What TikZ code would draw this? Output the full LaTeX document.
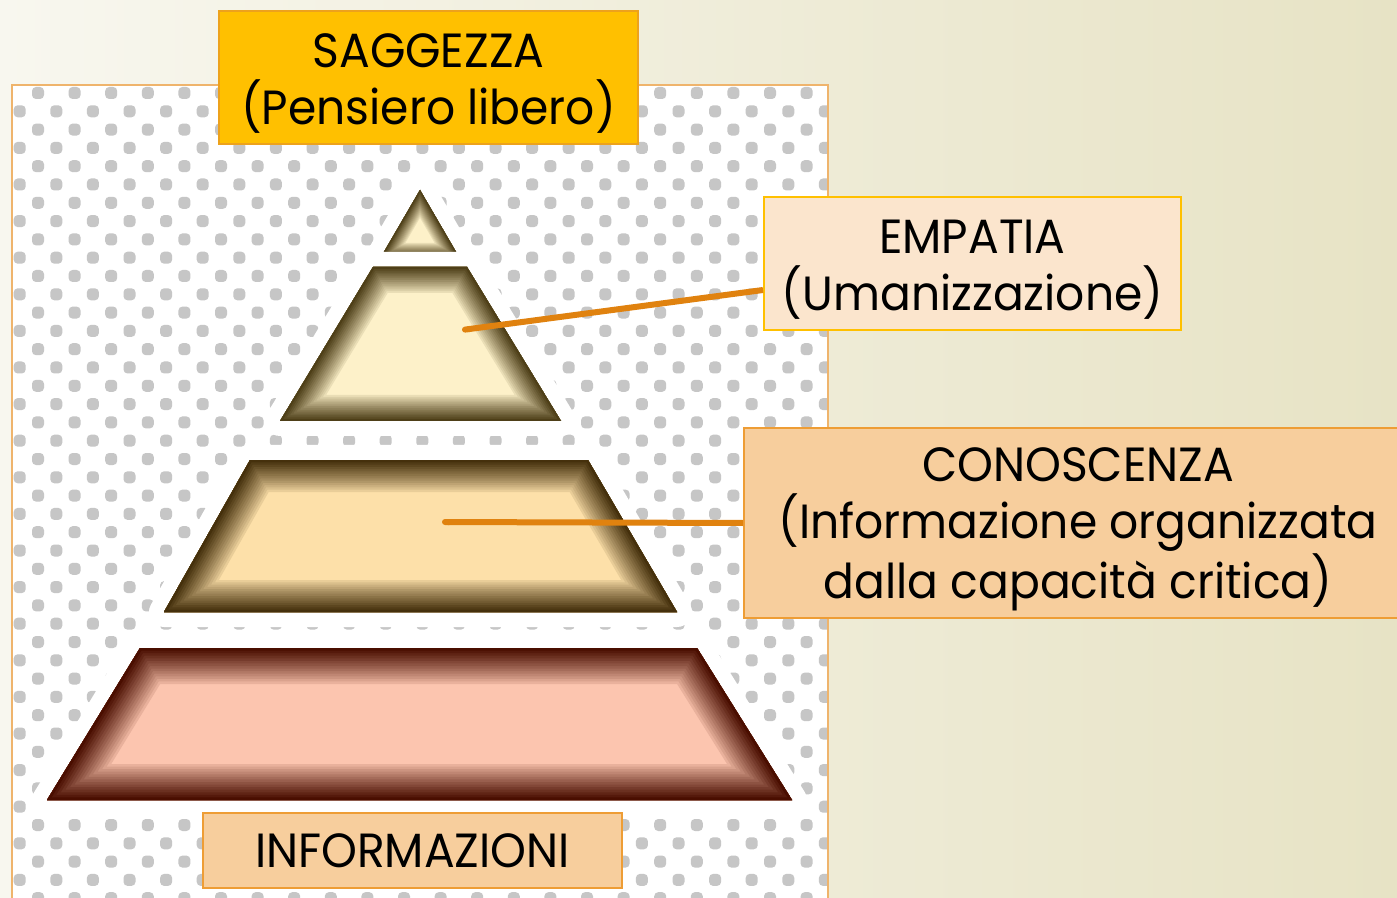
\documentclass[tikz,border=0pt]{standalone}
\usepackage{fontspec}
\setmainfont{Poppins}[FakeStretch=0.95]
\usepackage{xcolor}
\usetikzlibrary{positioning,calc,arrows.meta}

\definecolor{bgleft}{HTML}{F8F7EF}
\definecolor{bgright}{HTML}{E7E3C5}
\definecolor{framec}{HTML}{EFB46C}
\definecolor{dotc}{HTML}{C6C6C6}
\definecolor{gold}{HTML}{FFC000}
\definecolor{goldline}{HTML}{EDA21C}
\definecolor{peachlight}{HTML}{FBE5CD}
\definecolor{peach}{HTML}{F7CE9D}
\definecolor{peachline}{HTML}{EE9D35}
\definecolor{connc}{HTML}{E0820F}
\definecolor{creamin}{HTML}{FDF1C9}
\definecolor{creamdk}{HTML}{4E3F18}
\definecolor{tanin}{HTML}{FDE0A9}
\definecolor{tandk}{HTML}{45300C}
\definecolor{salmonin}{HTML}{FCC5AF}
\definecolor{salmondk}{HTML}{4A0E00}

% one slab of the pyramid: #1 outline, #2 inner colour, #3 edge colour, #4 depth of the dark edge (px)
\newcommand{\pyrslab}[4]{%
  \draw[white, line width=15pt, line join=round] #1 -- cycle;
  \begin{scope}
    \clip #1 -- cycle;
    \fill[#2] #1 -- cycle;
    \foreach \k in {1,...,14} {
      \pgfmathsetmacro\mixv{100*(\k/14)^0.85}
      \pgfmathsetmacro\lw{#4*(15-\k)/14}
      \draw[line width=\lw pt, color=#3!\mixv!#2, line join=miter] #1 -- cycle;
    }
  \end{scope}
}

\tikzset{
  textbox/.style={align=center, inner sep=0pt, line width=1pt,
    font=\fontsize{24}{28.5}\selectfont},
  sagbox/.style={textbox, fill=gold, draw=goldline},
  empbox/.style={textbox, fill=peachlight, draw=gold},
  conbox/.style={textbox, fill=peach, draw=peachline},
  conn/.style={draw=connc, line width=3pt, -{Round Cap[]}}
}

\begin{document}
\begin{tikzpicture}[x=0.5pt, y=-0.5pt]
  \clip (0,0) rectangle (1397,898);
  \shade[left color=bgleft, right color=bgright] (0,0) rectangle (1397,898);

  % dotted picture
  \fill[white] (12,85) rectangle (828,898);
  \begin{scope}
    \clip (12,85) rectangle (828,898);
    \foreach \r in {0,...,44} {
      \pgfmathsetmacro\xo{mod(\r,2)==0 ? 38 : 19.7}
      \foreach \c in {-1,...,22}
        \fill[dotc, rounded corners=2pt] ({\xo+36.6*\c-6},{93+18.3*\r-6}) rectangle +(12,12);
    }
  \end{scope}
  \draw[framec, line width=1.2pt] (12,898) -- (12,85) -- (828,85) -- (828,898);

  % pyramid
  \pyrslab{(420,190) -- (459,257) -- (381,257)}{creamin}{creamdk}{14}
  \pyrslab{(373,267) -- (467,267) -- (561,421) -- (280,421)}{creamin}{creamdk}{26}
  \pyrslab{(250,460) -- (588,460) -- (677,612) -- (164,612)}{tanin}{tandk}{32}
  \pyrslab{(140,648) -- (697,648) -- (792,800) -- (47,800)}{salmonin}{salmondk}{36}

  \coordinate (empdot) at (462,330);
  \coordinate (condot) at (442,522);

  % labels
  \node[sagbox, minimum width=209.5pt, minimum height=66.5pt] (saggezza) at (428.5,77.5)
    {\rule{0pt}{23pt}SAGGEZZA\\(Pensiero libero)};
  \node[empbox, minimum width=208.5pt, minimum height=66.5pt] (empatia) at (972.5,263.5)
    {\rule{0pt}{23pt}EMPATIA\\(Umanizzazione)};
  \node[conbox, minimum width=334pt, minimum height=95pt] (conoscenza) at (1078,523)
    {\rule{0pt}{23pt}CONOSCENZA\\(Informazione organizzata\\dalla capacità critica)};
  \node[conbox, minimum width=209.5pt, minimum height=37.5pt] (informazioni) at (412.5,850.5)
    {INFORMAZIONI};

  \draw[conn] ([yshift=-13.25pt]empatia.west) -- (empdot);
  \draw[conn] (conoscenza.west) -- (condot);
\end{tikzpicture}
\end{document}
